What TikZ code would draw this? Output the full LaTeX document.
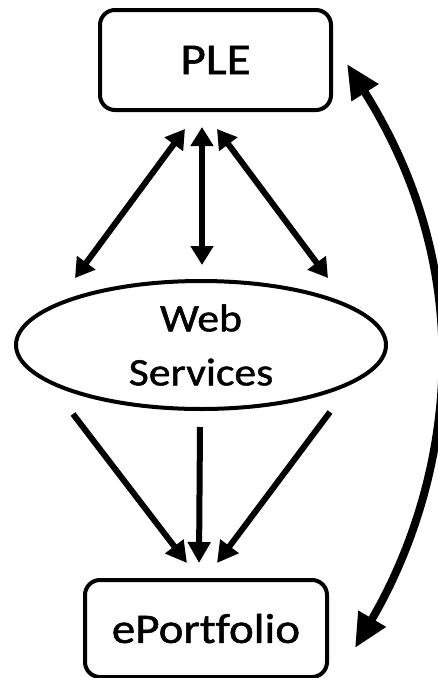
\documentclass[tikz,border=0pt]{standalone}
\usepackage{fontspec}
\setmainfont{Carlito}[FakeStretch=1.12, FakeBold=1.2, Ligatures=NoCommon]
\usetikzlibrary{arrows.meta,shapes.geometric}

\tikzset{
  box/.style={draw, line width=4pt, rounded corners=15pt, inner sep=0pt},
  oval/.style={draw, ellipse, line width=4pt, inner sep=0pt, align=center},
  link/.style={line width=6pt, -{Triangle[length=21pt,width=22pt]}},
  twoway/.style={line width=6pt, {Triangle[length=19pt,width=22pt]}-{Triangle[length=19pt,width=22pt]}},
  loop/.style={line width=8pt, {Triangle[length=34pt,width=30pt]}-{Triangle[length=34pt,width=30pt]}}
}

\begin{document}
\begin{tikzpicture}[x=1pt,y=-1pt]
  \useasboundingbox (0,0) rectangle (438,678);

  % the three components
  \node[box, minimum width=231pt, minimum height=100pt,
        font=\fontsize{44}{53}\selectfont] (ple) at (215.5,60) {PLE};
  \node[oval, minimum width=370pt, minimum height=128pt,
        font=\fontsize{39}{54}\selectfont] (ws) at (201,345) {Web\\Services};
  \node[box, minimum width=242pt, minimum height=97pt,
        font=\fontsize{42}{50}\selectfont] (port) at (206,628.5) {ePortfolio};

  % PLE <-> Web Services
  \draw[twoway] ([shift={(-30.5,17)}]ple.south) -- ([shift={(-126,-1)}]ws.north);
  \draw[twoway] ([shift={(-13.5,15)}]ple.south) -- ([shift={(1,-14)}]ws.north);
  \draw[twoway] ([shift={(1.5,17)}]ple.south) -- ([shift={(127,-1)}]ws.north);

  % Web Services -> ePortfolio
  \draw[link] ([shift={(-128,3)}]ws.south) -- ([shift={(-19,-15)}]port.north);
  \draw[link] ([shift={(-1,16)}]ws.south) -- ([shift={(-7,-15)}]port.north);
  \draw[link] ([shift={(129,1)}]ws.south) -- ([shift={(11,-15)}]port.north);

  % PLE <-> ePortfolio, curving round the right side
  \draw[loop] ([shift={(14,4)}]ple.east) .. controls (490,291) and (443,498)
        .. ([shift={(26,19.5)}]port.east);
\end{tikzpicture}
\end{document}
